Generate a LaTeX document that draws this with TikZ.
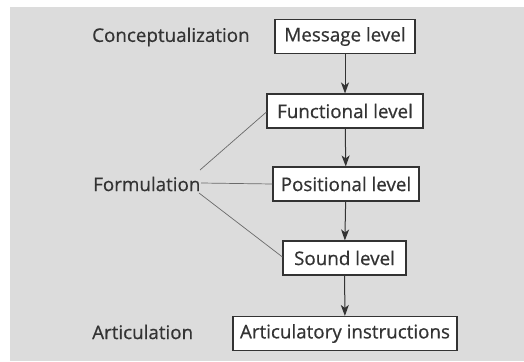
\documentclass[tikz,border=0pt]{standalone}
\usepackage{fontspec}
\setmainfont{Open Sans}[FakeBold=0.6]
\usetikzlibrary{arrows.meta}
\definecolor{bg}{HTML}{DCDCDC}
\definecolor{ink}{HTML}{333333}
\definecolor{thin}{HTML}{6A6A6A}
\begin{document}
\begin{tikzpicture}[x=1pt,y=-1pt,
  lvl/.style={draw=ink, line width=1.1pt, fill=white, minimum height=34pt, inner xsep=0pt, text=ink, font=\fontsize{18.8}{22}\selectfont},
  lab/.style={text=ink, font=\fontsize{18.8}{22}\selectfont, inner sep=0pt},
  arr/.style={draw=ink, line width=1pt, -{Stealth[length=11pt,width=8pt,inset=3pt]}},
  fline/.style={draw=thin, line width=0.7pt}]
\useasboundingbox (0,0) rectangle (524,361);
\fill[white] (0,0) rectangle (524,361);
\fill[bg] (10,7) rectangle (524,361);
\node[lvl, minimum width=140pt] (msg) at (345,36.5) {Message level};
\node[lvl, minimum width=156pt] (fun) at (345,111) {Functional level};
\node[lvl, minimum width=146pt] (pos) at (346,184) {Positional level};
\node[lvl, minimum width=123pt] (snd) at (344.5,258) {Sound level};
\node[lvl, minimum width=224pt] (art) at (345,333.5) {Articulatory instructions};
\node[lab, anchor=west] (con) at (92,37) {Conceptualization};
\node[lab, anchor=west] (form) at (93,184) {Formulation};
\node[lab, anchor=west] (artl) at (92,332) {Articulation};
\draw[arr] (msg) -- (fun);
\draw[arr] (fun) -- (pos);
\draw[arr] (pos) -- (snd);
\draw[arr] (snd) -- (art);
\coordinate (f1) at (200,170);
\coordinate (f2) at (201,183);
\coordinate (f3) at (199,193);
\draw[fline] (f1) -- (fun.south west |- 0,112);
\draw[fline] (f2) -- (pos.west);
\draw[fline] (f3) -- (snd.west |- 0,257);
\end{tikzpicture}
\end{document}
